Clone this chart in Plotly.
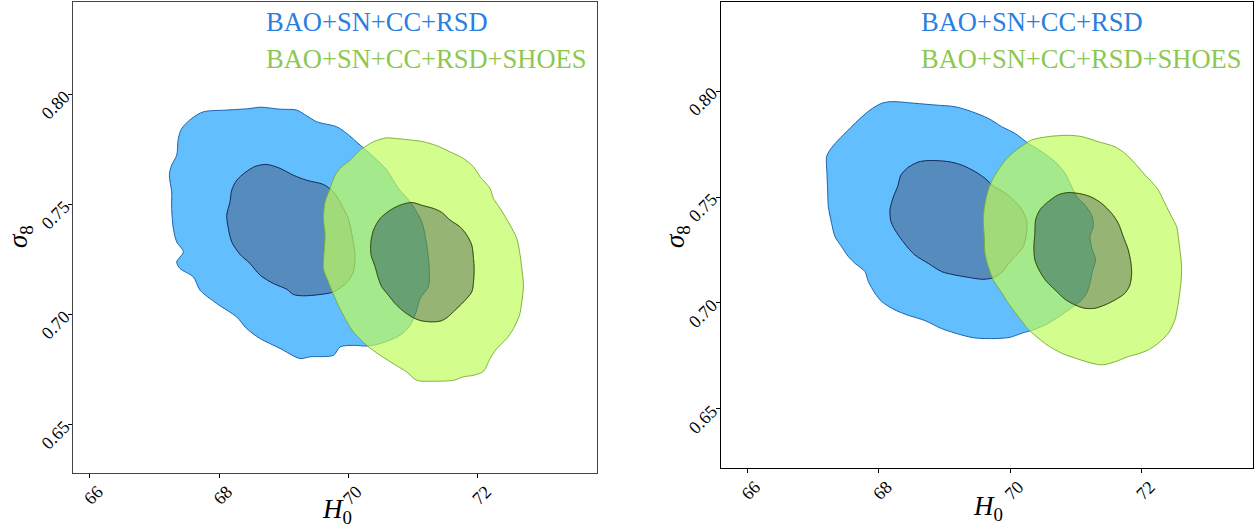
import numpy as np
import plotly.graph_objects as go

# ---------------- data: contour outlines (H0, sigma8) ----------------
# Left panel
L_blue_out_h0 = [67.577, 67.757, 68.118, 68.478, 68.633, 68.942, 69.200, 69.354, 69.509, 69.818, 69.973, 70.179,
                 70.385, 70.591, 70.771, 70.952, 71.132, 71.209, 71.251, 71.235, 71.106, 71.045, 70.952, 70.797,
                 70.488, 70.282, 70.076, 69.870, 69.767, 69.406, 69.251, 68.942, 68.633, 68.427, 68.272, 67.963,
                 67.705, 67.602, 67.396, 67.345, 67.448, 67.345, 67.293, 67.267, 67.267, 67.231, 67.267, 67.345,
                 67.370, 67.422]
L_blue_out_s8 = [0.7891, 0.7921, 0.7929, 0.7936, 0.7942, 0.7933, 0.7929, 0.7903, 0.7876, 0.7853, 0.7823, 0.7770,
                 0.7717, 0.7656, 0.7573, 0.7512, 0.7421, 0.7315, 0.7194, 0.7126, 0.7073, 0.7012, 0.6951, 0.6906,
                 0.6868, 0.6857, 0.6860, 0.6853, 0.6815, 0.6808, 0.6800, 0.6846, 0.6891, 0.6936, 0.6989, 0.7050,
                 0.7111, 0.7171, 0.7209, 0.7239, 0.7285, 0.7330, 0.7391, 0.7482, 0.7558, 0.7633, 0.7679, 0.7724,
                 0.7800, 0.7845]
L_blue_in_h0 = [68.736, 68.942, 69.148, 69.354, 69.612, 69.767, 69.895, 69.998, 70.050, 70.101, 70.076, 69.973,
                69.767, 69.560, 69.303, 69.148, 69.045, 68.839, 68.633, 68.478, 68.324, 68.195, 68.143, 68.118,
                68.169, 68.195, 68.272, 68.401, 68.556]
L_blue_in_s8 = [0.7682, 0.7664, 0.7633, 0.7610, 0.7591, 0.7557, 0.7497, 0.7436, 0.7368, 0.7270, 0.7194, 0.7145,
                0.7103, 0.7091, 0.7085, 0.7091, 0.7115, 0.7141, 0.7179, 0.7232, 0.7273, 0.7330, 0.7391, 0.7451,
                0.7512, 0.7565, 0.7610, 0.7645, 0.7673]
L_green_out_h0 = [70.179, 70.385, 70.591, 70.720, 70.900, 71.158, 71.364, 71.570, 71.776, 71.931, 72.034, 72.188,
                  72.240, 72.343, 72.498, 72.601, 72.652, 72.678, 72.704, 72.678, 72.642, 72.549, 72.446, 72.291,
                  72.188, 72.085, 71.931, 71.776, 71.621, 71.312, 71.055, 70.900, 70.746, 70.488, 70.282, 70.076,
                  69.947, 69.818, 69.689, 69.612, 69.622, 69.638, 69.612, 69.638, 69.715, 69.792, 69.895, 70.024,
                  70.127]
L_green_out_s8 = [0.7747, 0.7785, 0.7803, 0.7800, 0.7795, 0.7785, 0.7767, 0.7739, 0.7709, 0.7671, 0.7626, 0.7573,
                  0.7527, 0.7482, 0.7406, 0.7345, 0.7270, 0.7209, 0.7133, 0.7058, 0.6997, 0.6936, 0.6891, 0.6845,
                  0.6800, 0.6742, 0.6724, 0.6717, 0.6701, 0.6697, 0.6701, 0.6739, 0.6767, 0.6815, 0.6860, 0.6921,
                  0.6982, 0.7057, 0.7148, 0.7209, 0.7285, 0.7361, 0.7436, 0.7512, 0.7573, 0.7633, 0.7671, 0.7701,
                  0.7732]
L_green_in_h0 = [70.978, 71.158, 71.312, 71.441, 71.570, 71.725, 71.828, 71.905, 71.931, 71.941, 71.931, 71.905,
                 71.776, 71.647, 71.518, 71.415, 71.261, 71.106, 70.978, 70.849, 70.720, 70.617, 70.514, 70.462,
                 70.411, 70.349, 70.344, 70.385, 70.488, 70.643, 70.797]
L_green_in_s8 = [0.7509, 0.7494, 0.7482, 0.7464, 0.7429, 0.7398, 0.7361, 0.7315, 0.7255, 0.7209, 0.7148, 0.7103,
                 0.7057, 0.7020, 0.6985, 0.6970, 0.6967, 0.6973, 0.6989, 0.7015, 0.7050, 0.7088, 0.7126, 0.7164,
                 0.7217, 0.7270, 0.7323, 0.7383, 0.7436, 0.7474, 0.7497]

# Right panel
R_blue_out_h0 = [68.045, 68.197, 68.552, 68.856, 69.160, 69.413, 69.666, 69.869, 70.072, 70.274, 70.477, 70.680,
                 70.832, 70.933, 71.009, 71.136, 71.247, 71.262, 71.212, 71.247, 71.298, 71.247, 71.212, 71.161,
                 71.085, 70.958, 70.781, 70.579, 70.376, 70.173, 69.996, 69.768, 69.464, 69.261, 68.957, 68.704,
                 68.450, 68.248, 68.045, 67.944, 67.843, 67.792, 67.640, 67.539, 67.437, 67.336, 67.285, 67.235,
                 67.225, 67.214, 67.209, 67.260, 67.387, 67.539, 67.691, 67.868]
R_blue_out_s8 = [0.7942, 0.7950, 0.7942, 0.7934, 0.7926, 0.7903, 0.7871, 0.7832, 0.7800, 0.7753, 0.7714, 0.7667,
                 0.7612, 0.7549, 0.7502, 0.7462, 0.7407, 0.7360, 0.7313, 0.7250, 0.7203, 0.7148, 0.7093, 0.7046,
                 0.7014, 0.6983, 0.6944, 0.6904, 0.6876, 0.6857, 0.6838, 0.6832, 0.6835, 0.6849, 0.6879, 0.6917,
                 0.6942, 0.6967, 0.7007, 0.7046, 0.7101, 0.7148, 0.7187, 0.7219, 0.7266, 0.7313, 0.7376, 0.7455,
                 0.7533, 0.7612, 0.7690, 0.7722, 0.7769, 0.7816, 0.7863, 0.7910]
R_blue_in_h0 = [68.754, 69.058, 69.261, 69.464, 69.616, 69.742, 69.894, 70.046, 70.173, 70.249, 70.249, 70.198,
                70.072, 69.960, 69.869, 69.717, 69.565, 69.362, 69.160, 68.957, 68.754, 68.552, 68.400, 68.273,
                68.187, 68.172, 68.222, 68.288, 68.339, 68.450, 68.602]
R_blue_in_s8 = [0.7672, 0.7667, 0.7651, 0.7620, 0.7588, 0.7552, 0.7525, 0.7486, 0.7442, 0.7389, 0.7329, 0.7266,
                0.7219, 0.7180, 0.7143, 0.7117, 0.7112, 0.7121, 0.7132, 0.7148, 0.7187, 0.7226, 0.7278, 0.7332,
                0.7384, 0.7439, 0.7499, 0.7549, 0.7604, 0.7640, 0.7665]
R_green_out_h0 = [70.325, 70.578, 70.882, 71.085, 71.338, 71.591, 71.743, 71.895, 72.047, 72.149, 72.250, 72.351,
                  72.453, 72.529, 72.554, 72.579, 72.605, 72.594, 72.554, 72.503, 72.402, 72.250, 72.098, 71.946,
                  71.794, 71.642, 71.490, 71.389, 71.237, 71.034, 70.781, 70.579, 70.426, 70.274, 70.122, 69.970,
                  69.869, 69.742, 69.666, 69.616, 69.605, 69.590, 69.616, 69.666, 69.727, 69.818, 69.930, 70.072,
                  70.224]
R_green_out_s8 = [0.7769, 0.7785, 0.7791, 0.7785, 0.7761, 0.7737, 0.7706, 0.7659, 0.7604, 0.7572, 0.7533, 0.7470,
                  0.7407, 0.7360, 0.7313, 0.7250, 0.7172, 0.7093, 0.6999, 0.6920, 0.6857, 0.6810, 0.6779, 0.6760,
                  0.6747, 0.6728, 0.6713, 0.6708, 0.6716, 0.6735, 0.6763, 0.6798, 0.6834, 0.6876, 0.6936, 0.6999,
                  0.7049, 0.7109, 0.7172, 0.7234, 0.7313, 0.7392, 0.7470, 0.7533, 0.7580, 0.7628, 0.7675, 0.7717,
                  0.7750]
R_green_in_h0 = [70.882, 71.085, 71.237, 71.389, 71.541, 71.642, 71.718, 71.794, 71.835, 71.845, 71.819, 71.743,
                 71.591, 71.440, 71.287, 71.135, 70.983, 70.831, 70.680, 70.553, 70.451, 70.375, 70.360, 70.375,
                 70.386, 70.451, 70.578, 70.730]
R_green_in_s8 = [0.7521, 0.7514, 0.7499, 0.7470, 0.7423, 0.7376, 0.7313, 0.7250, 0.7187, 0.7140, 0.7085, 0.7046,
                 0.7014, 0.6991, 0.6975, 0.6975, 0.6991, 0.7018, 0.7062, 0.7101, 0.7148, 0.7203, 0.7266, 0.7329,
                 0.7392, 0.7439, 0.7478, 0.7510]

legend_labels = ["BAO+SN+CC+RSD", "BAO+SN+CC+RSD+SHOES"]
x_ticks = [66, 68, 70, 72]
y_ticks = [0.65, 0.70, 0.75, 0.80]
x_tick_text = ["66", "68", "70", "72"]
y_tick_text = ["0.65", "0.70", "0.75", "0.80"]

# ---------------- styles ----------------
BLUE_OUT = "rgb(99,190,253)"
BLUE_IN = "rgb(86,139,190)"
BLUE_OUT_LINE = "rgb(25,100,175)"
BLUE_IN_LINE = "rgb(20,40,85)"
GREEN_OUT = "rgba(192,252,91,0.7)"
GREEN_IN = "rgba(105,148,55,0.7)"
GREEN_OUT_LINE = "rgba(120,170,50,0.9)"
GREEN_IN_LINE = "rgba(40,60,20,0.8)"
LEG_BLUE = "rgb(42,128,222)"
LEG_GREEN = "rgb(140,200,80)"
FONT = "Liberation Serif"


def closed(x, y):
    x = list(x) + [x[0]]
    y = list(y) + [y[0]]
    return x, y


def signed_area(x, y):
    x = np.asarray(x); y = np.asarray(y)
    return 0.5 * np.sum(x * np.roll(y, -1) - np.roll(x, -1) * y)


def ring_with_hole(xo, yo, xi, yi):
    xo, yo = closed(xo, yo)
    xi, yi = closed(xi, yi)
    if np.sign(signed_area(xo, yo)) == np.sign(signed_area(xi, yi)):
        xi, yi = xi[::-1], yi[::-1]
    return xo + [None] + xi, yo + [None] + yi


fig = go.Figure()


def add_panel(xa, ya, bo, bi, go_, gi):
    common = dict(xaxis=xa, yaxis=ya, mode="lines", hoverinfo="skip", showlegend=False)
    x, y = closed(*bo)
    fig.add_trace(go.Scatter(x=x, y=y, fill="toself", fillcolor=BLUE_OUT,
                             line=dict(color=BLUE_OUT_LINE, width=1, shape="spline", smoothing=0.8), **common))
    x, y = closed(*bi)
    fig.add_trace(go.Scatter(x=x, y=y, fill="toself", fillcolor=BLUE_IN,
                             line=dict(color=BLUE_IN_LINE, width=1, shape="spline", smoothing=0.8), **common))
    x, y = ring_with_hole(go_[0], go_[1], gi[0], gi[1])
    fig.add_trace(go.Scatter(x=x, y=y, fill="toself", fillcolor=GREEN_OUT,
                             line=dict(color=GREEN_OUT_LINE, width=1, shape="spline", smoothing=0.8), **common))
    x, y = closed(*gi)
    fig.add_trace(go.Scatter(x=x, y=y, fill="toself", fillcolor=GREEN_IN,
                             line=dict(color=GREEN_IN_LINE, width=1, shape="spline", smoothing=0.8), **common))


add_panel("x", "y", (L_blue_out_h0, L_blue_out_s8), (L_blue_in_h0, L_blue_in_s8),
          (L_green_out_h0, L_green_out_s8), (L_green_in_h0, L_green_in_s8))
add_panel("x2", "y2", (R_blue_out_h0, R_blue_out_s8), (R_blue_in_h0, R_blue_in_s8),
          (R_green_out_h0, R_green_out_s8), (R_green_in_h0, R_green_in_s8))

W, H = 1260, 531


def ax_common(line_color, shift, standoff):
    return dict(showgrid=False, zeroline=False, showline=True, mirror=True, linecolor=line_color,
                linewidth=1.2, ticks="outside", ticklen=4, tickwidth=1, tickcolor="black",
                tickangle=-45, automargin=False, ticklabelshift=shift, ticklabelstandoff=standoff,
                tickfont=dict(family=FONT, size=18, color="black"))


fig.update_layout(
    width=W, height=H, margin=dict(l=0, r=0, t=0, b=0, pad=0),
    paper_bgcolor="white", plot_bgcolor="white",
    xaxis=dict(domain=[73.3 / W, 597 / W], range=[65.747, 73.84], tickvals=x_ticks, ticktext=x_tick_text,
               anchor="y", **ax_common("#444", 8, -4)),
    yaxis=dict(domain=[1 - 473 / H, 1 - 2 / H], range=[0.628, 0.842], tickvals=y_ticks, ticktext=y_tick_text,
               anchor="x", **ax_common("#444", 0, 0)),
    xaxis2=dict(domain=[720.7 / W, 1253 / W], range=[65.599, 73.69], tickvals=x_ticks, ticktext=x_tick_text,
                anchor="y2", **ax_common("black", 8, -4)),
    yaxis2=dict(domain=[1 - 468.3 / H, 1 - 2 / H], range=[0.622, 0.842], tickvals=y_ticks, ticktext=y_tick_text,
                anchor="x2", **ax_common("black", 0, 0)),
)

annots = []
title_font = dict(family=FONT, size=27, color="black")
for xc, yc in [(337, 511), (988, 508)]:
    annots.append(dict(x=xc / W, y=1 - yc / H, xref="paper", yref="paper", text="<i>H</i><sub>0</sub>",
                       showarrow=False, font=title_font, xanchor="center", yanchor="middle"))
for xc, yc in [(20, 237), (677, 237)]:
    annots.append(dict(x=xc / W, y=1 - yc / H, xref="paper", yref="paper", text="<i>σ</i><sub>8</sub>",
                       showarrow=False, font=title_font, xanchor="center", yanchor="middle", textangle=-90))
for x0 in [264, 919]:
    for label, color, yc in [(legend_labels[0], LEG_BLUE, 22), (legend_labels[1], LEG_GREEN, 59)]:
        annots.append(dict(x=x0 / W, y=1 - yc / H, xref="paper", yref="paper", text=label, showarrow=False,
                           font=dict(family=FONT, size=26.5, color=color), xanchor="left", yanchor="middle"))
fig.update_layout(annotations=annots)

fig.write_html("out.html", config={"displayModeBar": False},
               post_script="document.body.style.margin='0';document.body.style.padding='0';"
                           "document.body.style.overflow='hidden';")
